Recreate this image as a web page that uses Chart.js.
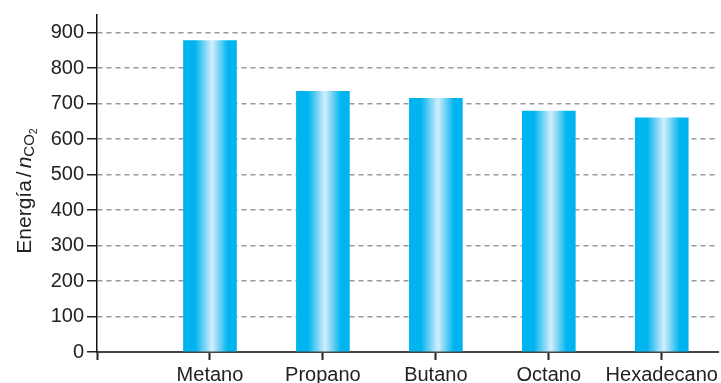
<!DOCTYPE html>
<html>
<head>
<meta charset="utf-8">
<script src="https://cdn.jsdelivr.net/npm/chart.js@4.4.0/dist/chart.umd.min.js"></script>
<style>
  html, body { margin: 0; padding: 0; background: #fff; }
  #chart { display: block; }
</style>
</head>
<body>
<canvas id="chart" width="721" height="383"></canvas>
<script>
// Dados do gráfico
const categories = ['Metano', 'Propano', 'Butano', 'Octano', 'Hexadecano'];
const energy = [878, 735, 715, 679, 660];
const yMax = 950;
const yStep = 100;

const BLUE = '#00b4ef';
const LIGHT = '#d4eefb';

// Gradiente horizontal de cada barra
function barGradient(context) {
    const chart = context.chart;
    if (!chart.chartArea || !context.raw) return BLUE;
    const cx = chart.scales.x.getPixelForValue(context.raw.x);
    const half = 26.5;
    const g = chart.ctx.createLinearGradient(cx - half, 0, cx + half, 0);
    g.addColorStop(0, BLUE);
    g.addColorStop(0.22, BLUE);
    g.addColorStop(0.54, LIGHT);
    g.addColorStop(0.84, BLUE);
    g.addColorStop(1, BLUE);
    return g;
}

// Título do eixo y com subscrito
const yTitlePlugin = {
    id: 'yTitle',
    afterDraw(chart) {
        const ctx = chart.ctx;
        const fam = '"Liberation Sans", Arial, sans-serif';
        const parts = [
            { t: 'Energía', f: '21px ' + fam, dy: 0, gap: 3 },
            { t: '/', f: '21px ' + fam, dy: 0, gap: 3 },
            { t: 'n', f: 'italic 21px ' + fam, dy: 0, gap: 0 },
            { t: 'CO', f: '15px ' + fam, dy: 3, gap: 0 },
            { t: '2', f: '10.5px ' + fam, dy: 6, gap: 0 }
        ];
        let total = 0;
        parts.forEach(p => { ctx.font = p.f; p.w = ctx.measureText(p.t).width; total += p.w + p.gap; });
        const centerY = 191;
        ctx.save();
        ctx.translate(31, centerY + total / 2);
        ctx.rotate(-Math.PI / 2);
        ctx.fillStyle = '#222';
        ctx.textBaseline = 'alphabetic';
        let x = 0;
        parts.forEach(p => {
            ctx.font = p.f;
            ctx.fillText(p.t, x, p.dy);
            x += p.w + p.gap;
        });
        ctx.restore();
    }
};

const ctx = document.getElementById('chart').getContext('2d');
new Chart(ctx, {
    type: 'bar',
    data: {
        datasets: [{
            data: energy.map((v, i) => ({ x: i + 1, y: v })),
            backgroundColor: barGradient,
            borderWidth: 0,
            barThickness: 53
        }]
    },
    options: {
        responsive: false,
        animation: false,
        layout: { padding: { top: 14, right: 1, left: 0, bottom: 0 } },
        plugins: {
            legend: { display: false },
            tooltip: { enabled: false }
        },
        scales: {
            x: {
                type: 'linear',
                min: 0,
                max: 5.5,
                offset: false,
                afterFit: s => { s.height = 31; },
                afterBuildTicks: s => {
                    s.ticks = [0, 1, 2, 3, 4, 5].map(v => ({ value: v }));
                },
                ticks: {
                    autoSkip: false,
                    maxRotation: 0,
                    padding: 3,
                    color: '#222',
                    font: { family: '"Liberation Sans", Arial, sans-serif', size: 20 },
                    callback: v => categories[v - 1] || ''
                },
                grid: {
                    offset: false,
                    drawOnChartArea: false,
                    drawTicks: true,
                    tickLength: 8,
                    tickColor: '#222',
                    tickWidth: 2
                },
                border: { color: '#444', width: 2 }
            },
            y: {
                min: 0,
                max: yMax,
                afterFit: s => { s.width = 97; },
                ticks: {
                    stepSize: yStep,
                    includeBounds: false,
                    padding: 3,
                    color: '#222',
                    font: { family: '"Liberation Sans", Arial, sans-serif', size: 20 }
                },
                grid: {
                    color: c => (c.tick && c.tick.value === 0) ? 'rgba(0,0,0,0)' : '#9a9a9a',
                    lineWidth: 1.5,
                    tickLength: 10,
                    tickColor: '#222',
                    tickWidth: 1.5,
                    tickBorderDash: []
                },
                border: { color: '#111', width: 1.5, dash: [5, 4] }
            }
        }
    },
    plugins: [yTitlePlugin]
});
</script>
</body>
</html>
